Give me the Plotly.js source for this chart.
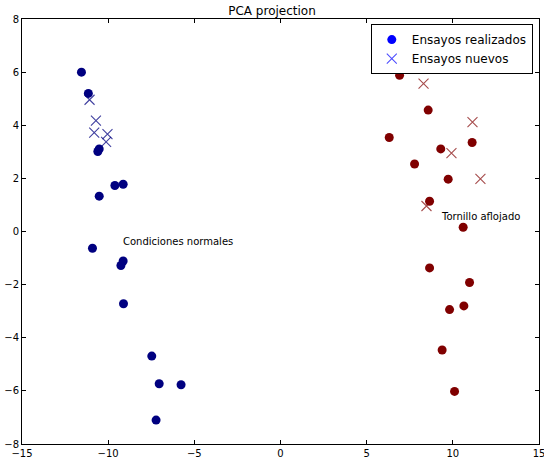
<!DOCTYPE html>
<html>
<head>
<meta charset="utf-8">
<script src="https://cdn.plot.ly/plotly-3.0.1.min.js"></script>
<style>html,body{margin:0;padding:0;background:#fff;}</style>
</head>
<body>
<div id="chart" style="width:544px;height:459px;"></div>
<script>
// Condiciones normales - ensayos realizados
var normalRealX = [-11.55, -11.15, -10.52, -10.60, -10.52, -9.61, -9.13, -10.91, -9.13, -9.26, -9.11, -7.47, -7.04, -5.77, -7.22];
var normalRealY = [6.00, 5.20, 3.11, 3.01, 1.33, 1.73, 1.78, -0.63, -1.11, -1.28, -2.72, -4.69, -5.73, -5.77, -7.10];
// Condiciones normales - ensayos nuevos
var normalNewX = [-11.08, -10.71, -10.81, -10.04, -10.12];
var normalNewY = [4.96, 4.17, 3.72, 3.67, 3.37];
// Tornillo aflojado - ensayos realizados
var looseRealX = [6.91, 8.57, 6.31, 11.12, 9.30, 7.78, 9.73, 8.65, 10.60, 8.65, 10.97, 10.64, 9.81, 9.38, 10.10];
var looseRealY = [5.88, 4.57, 3.54, 3.35, 3.11, 2.54, 1.97, 1.14, 0.16, -1.37, -1.92, -2.80, -2.94, -4.46, -6.02];
// Tornillo aflojado - ensayos nuevos
var looseNewX = [8.30, 11.14, 9.92, 11.60, 8.47];
var looseNewY = [5.57, 4.12, 2.95, 1.98, 0.96];

var legendNames = ["Ensayos realizados", "Ensayos nuevos"];
var labelTexts = ["Condiciones normales", "Tornillo aflojado"];
var labelX = [-9.25, 9.22];
var labelY = [-0.36, 0.58];

var xTicks = [-15, -10, -5, 0, 5, 10, 15];
var yTicks = [-8, -6, -4, -2, 0, 2, 4, 6, 8];

var navy = '#000080';
var darkred = '#800000';

var traces = [
  {x: normalRealX, y: normalRealY, mode: 'markers', type: 'scatter', showlegend: false,
   marker: {color: navy, size: 9, symbol: 'circle'}},
  {x: looseRealX, y: looseRealY, mode: 'markers', type: 'scatter', showlegend: false,
   marker: {color: darkred, size: 9, symbol: 'circle'}},
  {x: normalNewX, y: normalNewY, mode: 'markers', type: 'scatter', showlegend: false,
   marker: {size: 10, symbol: 'x-thin', line: {color: 'rgba(0,0,128,0.75)', width: 1.1}}},
  {x: looseNewX, y: looseNewY, mode: 'markers', type: 'scatter', showlegend: false,
   marker: {size: 10, symbol: 'x-thin', line: {color: 'rgba(128,0,0,0.7)', width: 1.1}}},
  {x: [null], y: [null], mode: 'markers', type: 'scatter', name: legendNames[0],
   marker: {color: '#0000ff', size: 9, symbol: 'circle'}},
  {x: [null], y: [null], mode: 'markers', type: 'scatter', name: legendNames[1],
   marker: {size: 10, symbol: 'x-thin', line: {color: 'rgba(0,0,255,0.7)', width: 1.1}}}
];

var axisCommon = {
  showgrid: false, zeroline: false, showline: true, linecolor: '#000', linewidth: 1,
  mirror: 'ticks', ticks: 'inside', ticklen: 4, tickcolor: '#000', tickwidth: 1,
  ticklabeloverflow: 'allow',
  tickfont: {family: 'DejaVu Sans', size: 10, color: '#000'}
};

function fmt(v) { return v < 0 ? '\u2212' + Math.abs(v) : String(v); }

var layout = {
  width: 544, height: 459,
  margin: {l: 22, r: 5, t: 19, b: 15, pad: 0},
  paper_bgcolor: '#fff', plot_bgcolor: '#fff',
  font: {family: 'DejaVu Sans', color: '#000'},
  title: {text: 'PCA projection', font: {family: 'DejaVu Sans', size: 12, color: '#000'},
          x: 0.5, xanchor: 'center', y: 1, yref: 'container', yanchor: 'top', pad: {t: 7}},
  xaxis: Object.assign({}, axisCommon, {range: [-15, 15], tickvals: xTicks, ticktext: xTicks.map(fmt)}),
  yaxis: Object.assign({}, axisCommon, {range: [-8, 8], tickvals: yTicks, ticktext: yTicks.map(fmt)}),
  showlegend: true,
  legend: {x: 0.988, y: 0.988, xanchor: 'right', yanchor: 'top',
           bgcolor: '#fff', bordercolor: '#000', borderwidth: 1,
           font: {family: 'DejaVu Sans', size: 12, color: '#000'}},
  annotations: labelTexts.map(function(t, i) {
    return {x: labelX[i], y: labelY[i], xref: 'x', yref: 'y', text: t, showarrow: false,
            xanchor: 'left', yanchor: 'middle',
            font: {family: 'DejaVu Sans', size: 10, color: '#000'}};
  })
};

Plotly.newPlot('chart', traces, layout, {displayModeBar: false, staticPlot: true});
</script>
</body>
</html>
